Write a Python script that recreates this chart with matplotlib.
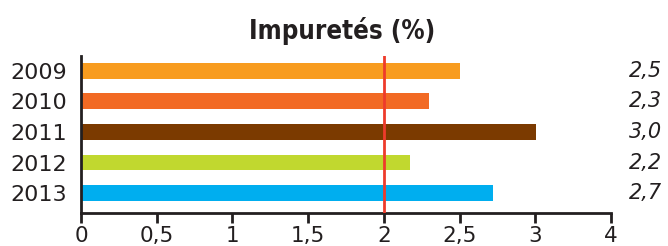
import numpy as np
import matplotlib
matplotlib.use("Agg")
import matplotlib.pyplot as plt
import matplotlib.transforms as mtransforms

years = ["2009", "2010", "2011", "2012", "2013"]
values = [2.50, 2.30, 3.01, 2.17, 2.72]
value_labels = ["2,5", "2,3", "3,0", "2,2", "2,7"]
colors = ["#F89C1F", "#F26A24", "#7B3A00", "#C1D82F", "#00AEEF"]
xticks = [0, 0.5, 1, 1.5, 2, 2.5, 3, 4]
xtick_labels = ["0", "0,5", "1", "1,5", "2", "2,5", "3", "4"]
threshold = 2.0
title = "Impuretés (%)"

dark = "#231F20"
plt.rcParams["font.family"] = ["DejaVu Sans"]

fig = plt.figure(figsize=(6.68, 2.46), dpi=100)
ax = fig.add_axes([81/668, 1-213/246, (611-81)/668, (213-56)/246])

def fwd(x):
    x = np.asarray(x, dtype=float)
    return np.where(x <= 3, x, 3 + (x - 3) * 0.5)

def inv(y):
    y = np.asarray(y, dtype=float)
    return np.where(y <= 3, y, 3 + (y - 3) * 2.0)

ax.set_xscale("function", functions=(fwd, inv))
ypos = np.arange(len(years))
ax.barh(ypos, values, height=0.52, color=colors, zorder=2)
ax.axvline(threshold, color="#EE3B2B", lw=2, zorder=3)

ax.set_xlim(0, 4)
ax.set_ylim(4.65, -0.48)
ax.set_xticks(xticks)
ax.set_xticklabels(xtick_labels, fontsize=15.5, color=dark)
ax.xaxis.set_minor_locator(matplotlib.ticker.NullLocator())
ax.set_yticks(ypos)
ax.set_yticklabels(years, fontsize=16, color=dark)
ax.tick_params(axis="x", direction="out", length=7, width=2, color=dark, pad=2)
ax.tick_params(axis="y", length=0, pad=10)
for s in ["top", "right"]:
    ax.spines[s].set_visible(False)
for s in ["left", "bottom"]:
    ax.spines[s].set_linewidth(2)
    ax.spines[s].set_color(dark)

trans = mtransforms.blended_transform_factory(fig.transFigure, ax.transData)
for y, lab in zip(ypos, value_labels):
    ax.text(0.991, y, lab, transform=trans, ha="right", va="center",
            fontsize=15, style="italic", color=dark)

fig.text(0.512, 0.875, title, ha="center", va="center", fontsize=18.5,
         fontweight="bold", fontstretch="condensed", color=dark,
         family=["DejaVu Sans Condensed", "DejaVu Sans"])

fig.savefig("out.png", dpi=100)
